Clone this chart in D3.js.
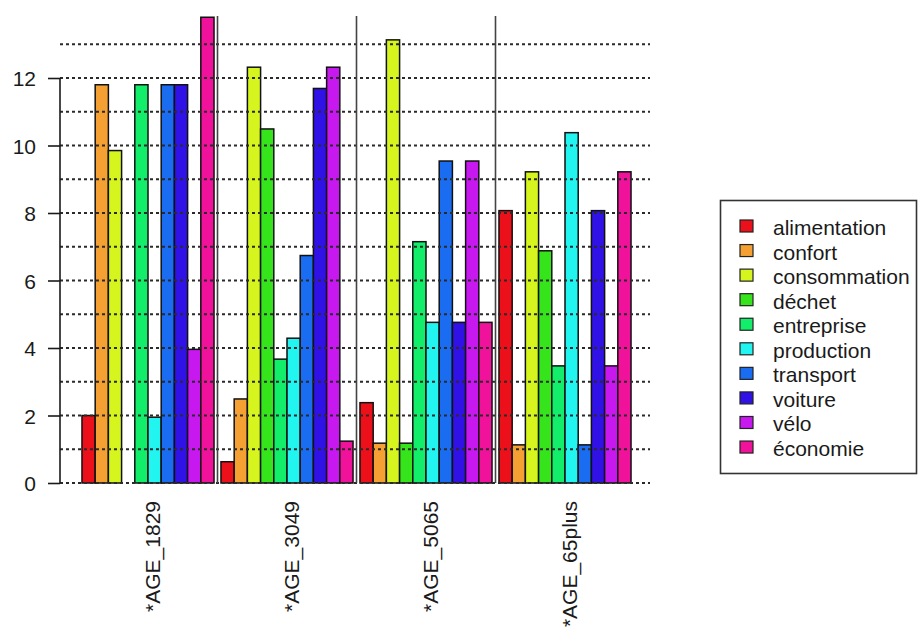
<!DOCTYPE html>
<html>
<head>
<meta charset="utf-8">
<script src="https://cdn.jsdelivr.net/npm/d3@7"></script>
<style>
  html, body { margin: 0; padding: 0; background: #fff; }
  svg { display: block; font-family: "Liberation Sans", Arial, sans-serif; }
</style>
</head>
<body>
<svg id="chart" width="918" height="632"></svg>
<script>
const categories = ["*AGE_1829", "*AGE_3049", "*AGE_5065", "*AGE_65plus"];
const series = ["alimentation", "confort", "consommation", "déchet", "entreprise",
                "production", "transport", "voiture", "vélo", "économie"];
const age1829   = [2.0, 11.8, 9.85, 0, 11.8, 1.95, 11.8, 11.8, 3.96, 13.8];
const age3049   = [0.63, 2.49, 12.32, 10.49, 3.67, 4.29, 6.74, 11.69, 12.32, 1.24];
const age5065   = [2.38, 1.18, 13.13, 1.18, 7.15, 4.76, 9.54, 4.76, 9.54, 4.76];
const age65plus = [8.07, 1.13, 9.22, 6.88, 3.47, 10.38, 1.13, 8.07, 3.47, 9.22];
const yTicks = [0, 2, 4, 6, 8, 10, 12];
const gridValues = [0, 1, 2, 3, 4, 5, 6, 7, 8, 9, 10, 11, 12, 13];
const colors = ["#EC101A", "#F5A032", "#D6F51E", "#36E41C", "#12EE6A",
                "#22F5F0", "#1A6CF0", "#3012E6", "#C818F0", "#F0129A"];

const values = [age1829, age3049, age5065, age65plus];
const data = categories.map((c, i) => ({ cat: c, vals: series.map((s, j) => ({ s, j, v: values[i][j] })) }));

const svg = d3.select("#chart");

const y = d3.scaleLinear().domain([0, 14]).range([483, 10.5]);
const x0 = d3.scaleBand().domain(categories).range([78.5, 634.5])
  .paddingInner(0.05).paddingOuter(0.025);
const x1 = d3.scaleBand().domain(series).range([0, x0.bandwidth()]).padding(0);
const color = d3.scaleOrdinal().domain(series).range(colors);

// Bars
const groups = svg.append("g").selectAll("g").data(data).join("g")
  .attr("transform", d => `translate(${x0(d.cat)},0)`);
groups.selectAll("rect").data(d => d.vals).join("rect")
  .attr("x", d => x1(d.s))
  .attr("width", x1.bandwidth())
  .attr("y", d => y(d.v))
  .attr("height", d => y(0) - y(d.v))
  .attr("fill", d => color(d.s))
  .attr("stroke", "#111")
  .attr("stroke-width", 1.5);

// Dotted grid drawn over bars
svg.append("g").selectAll("line").data(gridValues).join("line")
  .attr("x1", 60).attr("x2", 650)
  .attr("y1", d => y(d)).attr("y2", d => y(d))
  .attr("stroke", "#2a2a2a").attr("stroke-width", 2)
  .attr("stroke-dasharray", "3,3");

// Vertical separators between groups
const sepX = categories.slice(0, -1).map(c => x0(c) + x0.bandwidth() + (x0.step() - x0.bandwidth()) / 2);
svg.append("g").selectAll("line").data(sepX).join("line")
  .attr("x1", d => d).attr("x2", d => d)
  .attr("y1", 16).attr("y2", y(0))
  .attr("stroke", "#444").attr("stroke-width", 1.6);

// Y axis
const yAxis = d3.axisLeft(y).tickValues(yTicks).tickSize(12).tickPadding(12).tickFormat(d3.format("d"));
const ya = svg.append("g").attr("transform", "translate(60,0)").call(yAxis);
ya.select(".domain").remove();
ya.selectAll(".tick line").attr("stroke", "#1a1a1a").attr("stroke-width", 1.6);
ya.selectAll(".tick text").attr("font-size", 21).attr("fill", "#1a1a1a")
  .attr("font-family", "Liberation Sans, Arial, sans-serif").attr("dy", "0.36em");
ya.append("line").attr("x1", 0).attr("x2", 0).attr("y1", y(0)).attr("y2", y(12))
  .attr("stroke", "#1a1a1a").attr("stroke-width", 1.6);

// X labels (rotated)
svg.append("g").selectAll("text").data(categories).join("text")
  .attr("transform", d => `translate(${x0(d) + x0.bandwidth() / 2 + 4},501) rotate(-90)`)
  .attr("text-anchor", "end")
  .attr("dy", "0.36em")
  .attr("font-size", 21)
  .attr("fill", "#1a1a1a")
  .text(d => d);

// Legend
const lg = svg.append("g");
lg.append("rect").attr("x", 720.5).attr("y", 200.5).attr("width", 196).attr("height", 273)
  .attr("fill", "#fff").attr("stroke", "#333").attr("stroke-width", 1.6);
const items = lg.selectAll("g.item").data(series).join("g").attr("class", "item")
  .attr("transform", (d, i) => `translate(0,${235 + i * 24.56})`);
items.append("rect").attr("x", 740).attr("y", -15).attr("width", 13).attr("height", 12)
  .attr("fill", d => color(d)).attr("stroke", "#222").attr("stroke-width", 1.2);
items.append("text").attr("x", 773).attr("y", 0).attr("font-size", 21).attr("fill", "#1a1a1a")
  .text(d => d);
</script>
</body>
</html>
